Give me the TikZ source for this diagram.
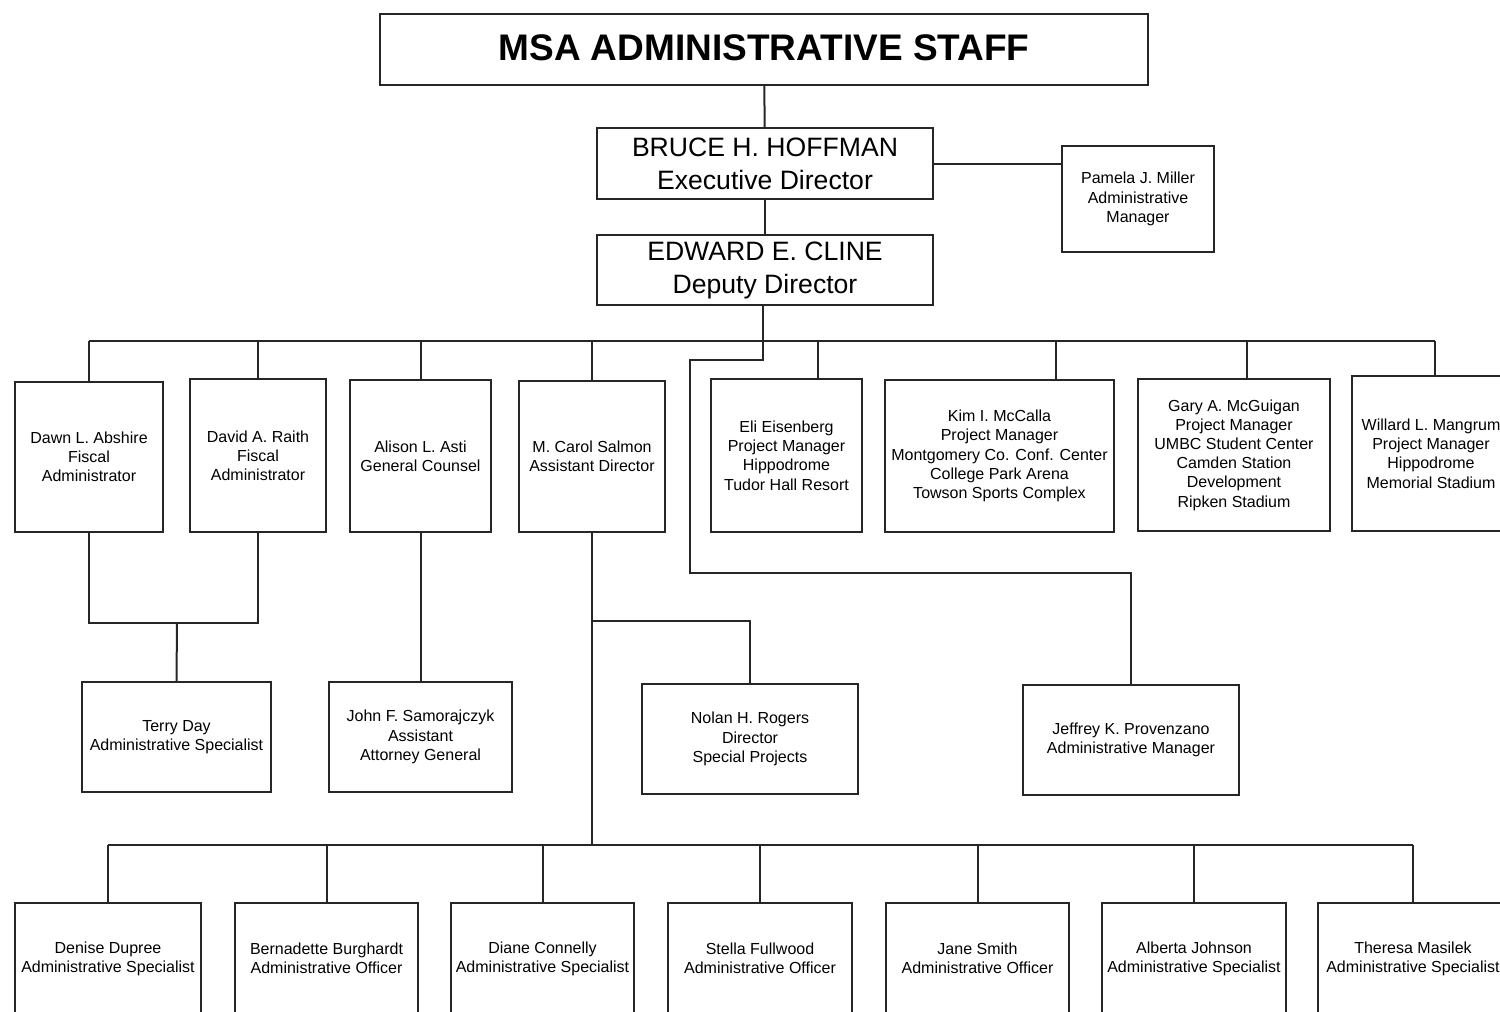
\documentclass[tikz,border=0pt]{standalone}
\usepackage{fontspec}
\setmainfont{Liberation Sans}
\begin{document}
\begin{tikzpicture}[x=0.5pt,y=-0.5pt,
  line/.style={draw=black!85,line width=1pt},
  box/.style={line,rectangle,inner sep=1pt,align=center,font=\fontsize{8}{9.6}\selectfont},
  bigbox/.style={line,rectangle,inner sep=1pt,align=center,font=\fontsize{13.3}{16.5}\selectfont},
  titlebox/.style={line,rectangle,inner sep=1pt,align=center,font=\fontsize{18.5}{22}\selectfont\bfseries},
  bot/.style={box,minimum height=55.5pt}]
\useasboundingbox (0,0) rectangle (1500,1012);
\clip (0,0) rectangle (1500,1012);
% top
\node[titlebox,minimum width=384pt,minimum height=35.5pt] (title) at (764,49.5) {\raisebox{1.5pt}{MSA ADMINISTRATIVE STAFF}};
\node[bigbox,minimum width=168pt,minimum height=35.5pt] (hoff) at (765,163.5) {BRUCE H. HOFFMAN\\Executive Director};
\node[bigbox,minimum width=168pt,minimum height=35pt] (dep) at (765,270) {EDWARD E. CLINE\\Deputy Director};
\node[box,minimum width=76pt,minimum height=53pt] (pam) at (1138,199) {Pamela J. Miller\\Administrative\\Manager};
% row 1
\node[box,minimum width=74pt,minimum height=75pt] (dawn) at (89,457) {Dawn L. Abshire\\Fiscal\\Administrator};
\node[box,minimum width=68pt,minimum height=76.5pt] (david) at (258,455.5) {David A. Raith\\Fiscal\\Administrator};
\node[box,minimum width=70.5pt,minimum height=76pt] (alison) at (420.5,456) {Alison L. Asti\\General Counsel};
\node[box,minimum width=73pt,minimum height=75.5pt] (carol) at (592,456.5) {M. Carol Salmon\\Assistant Director};
\node[box,minimum width=75.5pt,minimum height=76.5pt] (eli) at (786.5,455.5) {Eli Eisenberg\\Project Manager\\Hippodrome\\Tudor Hall Resort};
\node[box,minimum width=114.5pt,minimum height=76pt] (kim) at (999.5,456) {Kim I. McCalla\\Project Manager\\Montgomery Co. Conf. Center\\College Park Arena\\Towson Sports Complex};
\node[box,minimum width=96pt,minimum height=76pt] (gary) at (1234,455) {Gary A. McGuigan\\Project Manager\\UMBC Student Center\\Camden Station\\Development\\Ripken Stadium};
\node[box,minimum width=79pt,minimum height=77.5pt] (willard) at (1431,453.5) {Willard L. Mangrum\\Project Manager\\Hippodrome\\Memorial Stadium};
% row 2
\node[box,minimum width=94.5pt,minimum height=55pt] (terry) at (176.5,737) {Terry Day\\Administrative Specialist};
\node[box,minimum width=91.5pt,minimum height=55pt] (john) at (420.5,737) {John F. Samorajczyk\\Assistant\\Attorney General};
\node[box,minimum width=108pt,minimum height=55pt] (nolan) at (750,739) {Nolan H. Rogers\\Director\\Special Projects};
\node[box,minimum width=108pt,minimum height=55pt] (jeff) at (1131,740) {Jeffrey K. Provenzano\\Administrative Manager};
% bottom row
\node[bot,minimum width=93pt] (denise) at (108,958.5) {Denise Dupree\\Administrative Specialist};
\node[bot,minimum width=91.5pt] (bern) at (326.5,958.5) {Bernadette Burghardt\\Administrative Officer};
\node[bot,minimum width=91.5pt] (diane) at (542.5,958.5) {Diane Connelly\\Administrative Specialist};
\node[bot,minimum width=92pt] (stella) at (760,958.5) {Stella Fullwood\\Administrative Officer};
\node[bot,minimum width=91.5pt] (jane) at (977.5,958.5) {Jane Smith\\Administrative Officer};
\node[bot,minimum width=92pt] (alberta) at (1194,958.5) {Alberta Johnson\\Administrative Specialist};
\node[bot,minimum width=95pt] (theresa) at (1413,958.5) {Theresa Masilek\\Administrative Specialist};
% coordinates
\coordinate (bus) at (0,341);
\coordinate (deli) at (818,341);
\coordinate (dkim) at (1056,341);
\coordinate (dgary) at (1247,341);
\coordinate (dwil) at (1435,341);
\coordinate (t0) at (763,305);
\coordinate (t1) at (763,360);
\coordinate (t2) at (690,360);
\coordinate (t3) at (690,573);
\coordinate (tj) at (177,623);
\coordinate (nj) at (0,621);
\coordinate (bbus) at (0,845);
% connectors
\draw[line] (title) -- (hoff);
\draw[line] (hoff) -- (dep);
\draw[line] (hoff.east) -- (hoff.east -| pam.west);
\draw[line] (dawn.north |- bus) -- (dwil);
\draw[line] (dawn.north |- bus) -- (dawn.north);
\draw[line] (david.north |- bus) -- (david.north);
\draw[line] (alison.north |- bus) -- (alison.north);
\draw[line] (carol.north |- bus) -- (carol.north);
\draw[line] (deli) -- (deli |- eli.north);
\draw[line] (dkim) -- (dkim |- kim.north);
\draw[line] (dgary) -- (dgary |- gary.north);
\draw[line] (dwil) -- (dwil |- willard.north);
\draw[line] (t0 |- dep.south) -- (t1) -- (t2) -- (t3) -| (jeff.north);
\draw[line] (dawn.south) |- (tj) -| (david.south);
\draw[line] (tj) -- (terry.north);
\draw[line] (alison.south) -- (john.north);
\draw[line] (carol.south) -- (carol.south |- bbus);
\draw[line] (carol.south |- nj) -| (nolan.north);
\draw[line] (denise.north |- bbus) -- (theresa.north |- bbus);
\foreach \n in {denise,bern,diane,stella,jane,alberta,theresa}
  \draw[line] (\n.north |- bbus) -- (\n.north);
\end{tikzpicture}
\end{document}
